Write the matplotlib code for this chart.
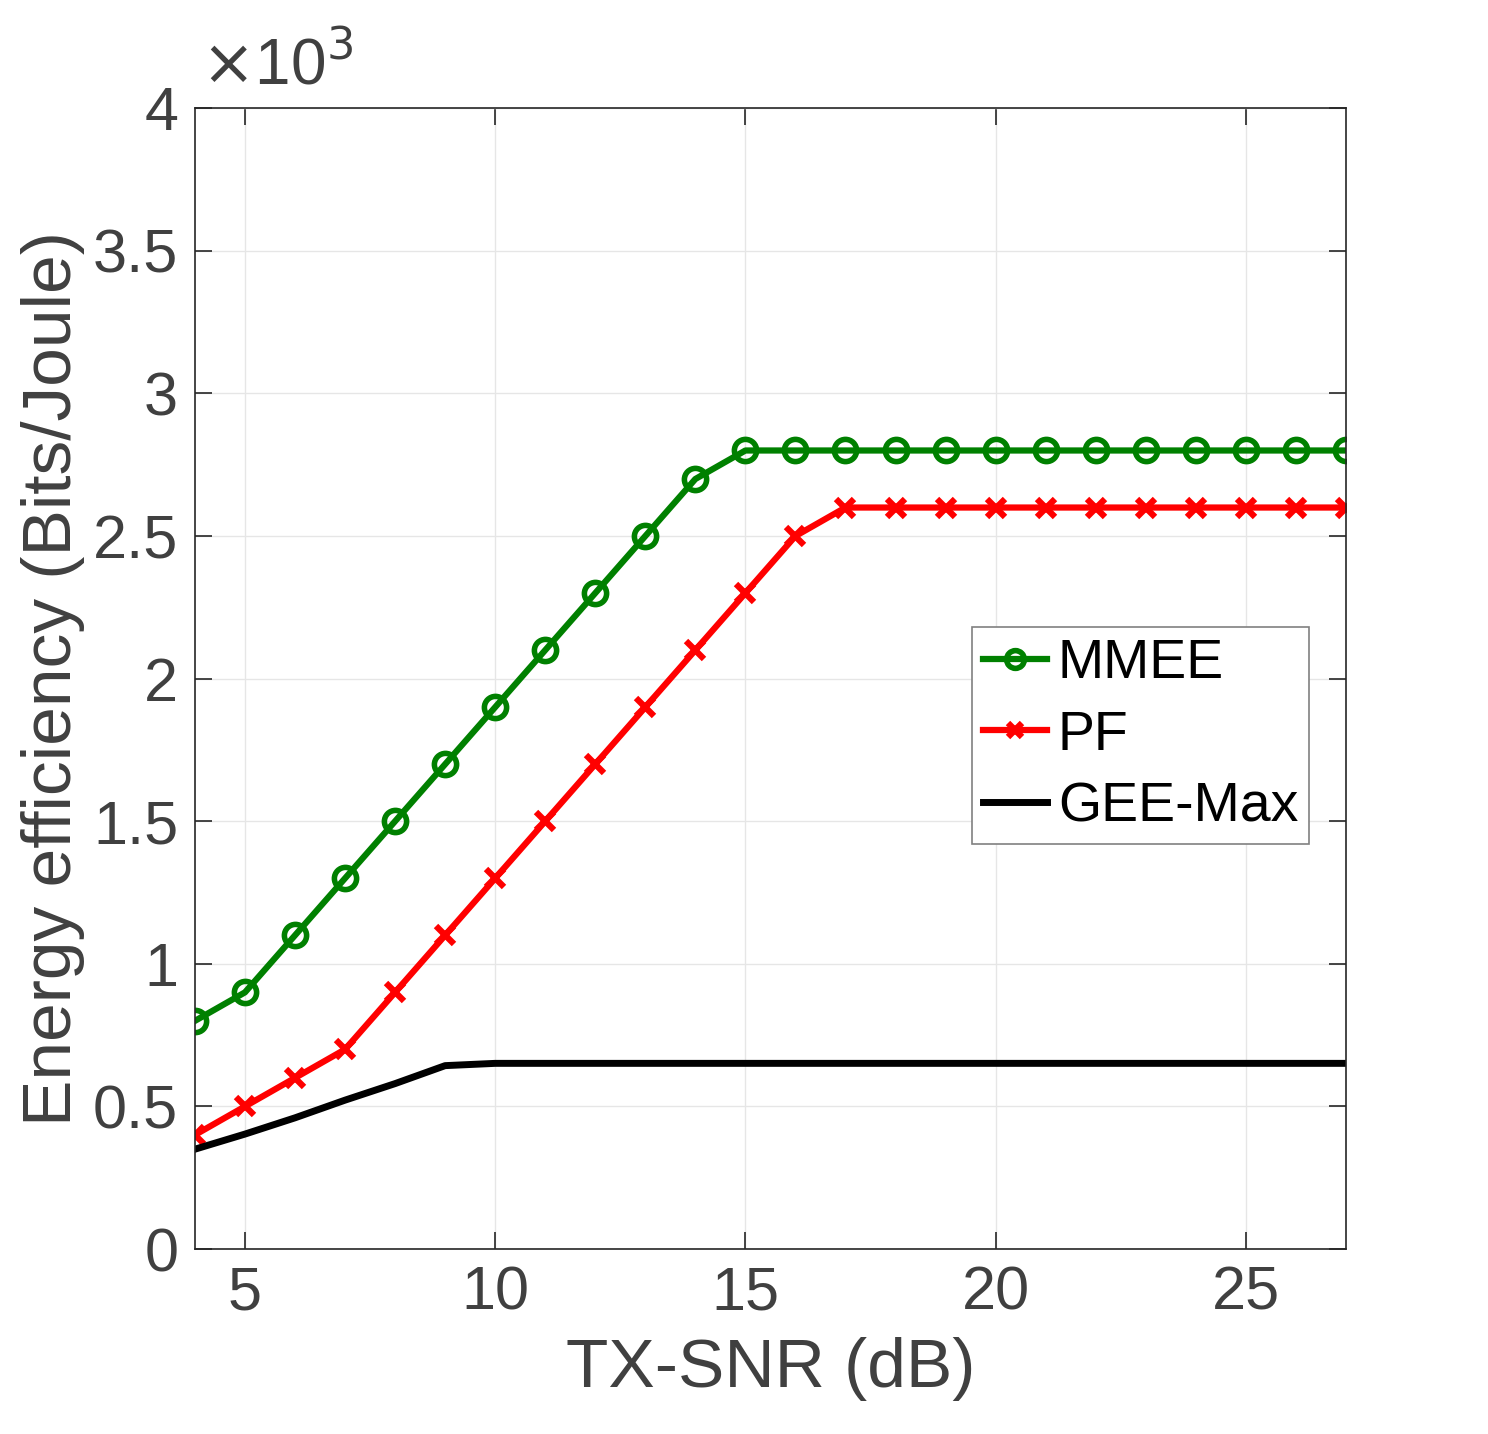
import numpy as np
import matplotlib.pyplot as plt
import matplotlib as mpl
from matplotlib.ticker import FuncFormatter

mpl.rcParams['font.family'] = ['Liberation Sans', 'DejaVu Sans']

# === data ===
snr = list(range(4, 28))
mmee = [800, 900, 1100, 1300, 1500, 1700, 1900, 2100, 2300, 2500, 2700] + [2800] * 13
pf = [400, 500, 600, 700, 900, 1100, 1300, 1500, 1700, 1900, 2100, 2300, 2500] + [2600] * 11
gee = [350, 403, 460, 522, 580, 643, 651] + [651] * 17

txt = '#404040'
fig = plt.figure(figsize=(14.88, 14.34), dpi=100)
ax = fig.add_axes([0.131, 0.129, 0.7735, 0.7955])

ax.plot(snr, mmee, color='#008000', lw=4.5, marker='o', ms=16, mfc='none', mew=4, label='MMEE')
ax.plot(snr, pf, color='#ff0000', lw=4.5, marker='x', ms=13, mew=4.5, label='PF')
ax.plot(snr, gee, color='black', lw=5, label='GEE-Max')

ax.set_xlim(4, 27)
ax.set_ylim(0, 4000)
ax.set_xticks([5, 10, 15, 20, 25])
ax.set_yticks(np.arange(0, 4001, 500))
ax.yaxis.set_major_formatter(FuncFormatter(lambda v, p: f'{v/1000:g}'))
ax.grid(True, color='#e6e6e6', lw=1)
ax.set_axisbelow(True)
ax.tick_params(direction='in', length=12, width=1.2, top=True, right=True,
               labelsize=44, colors='#262626', labelcolor=txt, pad=12)
for s in ax.spines.values():
    s.set_color('#262626')
    s.set_linewidth(1.2)

ax.set_xlabel('TX-SNR (dB)', fontsize=50, color=txt, labelpad=10)
ax.set_ylabel('Energy efficiency (Bits/Joule)', fontsize=50, color=txt, labelpad=6)
ax.text(0.005, 1.01, r'$\times$10$^3$', transform=ax.transAxes, fontsize=46,
        color=txt, ha='left', va='bottom', math_fontfamily='dejavusans')

leg = ax.legend(loc='upper left', bbox_to_anchor=(0.675, 0.545), fontsize=40,
                handlelength=1.15, handletextpad=0.2, borderpad=0.2, labelspacing=0.35,
                borderaxespad=0, fancybox=False, framealpha=1, edgecolor='#808080',
                markerscale=0.8)
leg.get_frame().set_linewidth(1.2)

plt.savefig('out.png', dpi=100)
